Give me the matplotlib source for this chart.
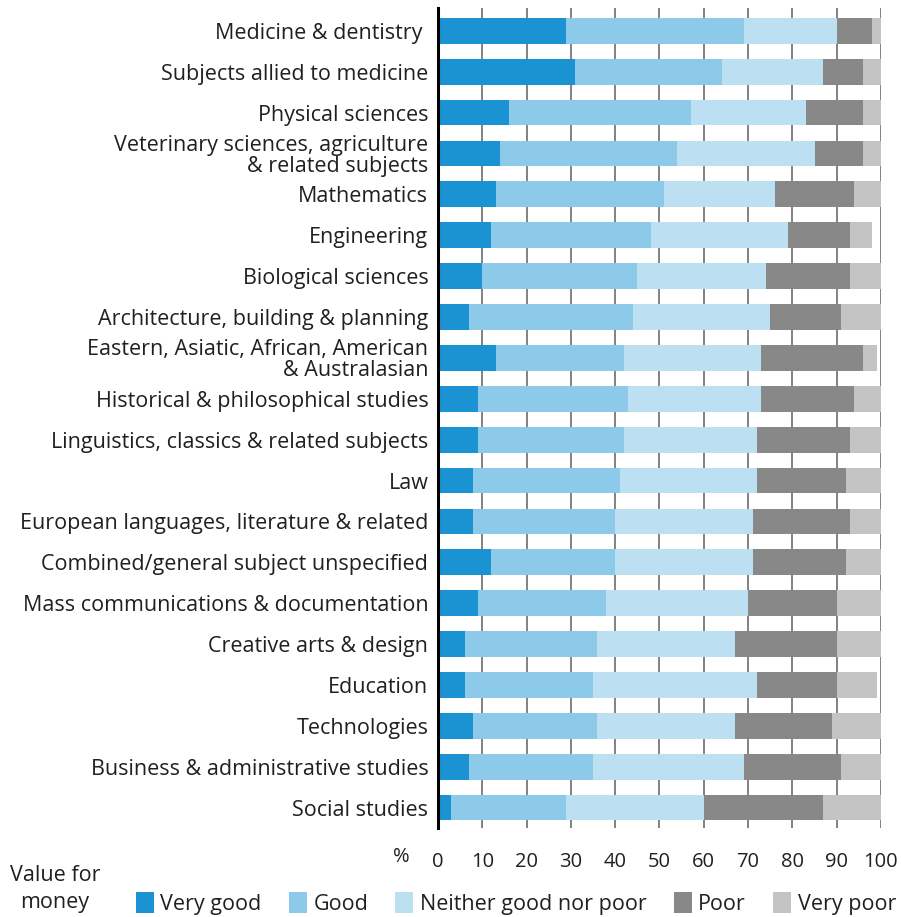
import matplotlib.pyplot as plt
from matplotlib.patches import Patch

plt.rcParams['font.family'] = ['Open Sans', 'DejaVu Sans']

subjects = [
    'Medicine & dentistry ',
    'Subjects allied to medicine',
    'Physical sciences',
    'Veterinary sciences, agriculture\n& related subjects',
    'Mathematics',
    'Engineering',
    'Biological sciences',
    'Architecture, building & planning',
    'Eastern, Asiatic, African, American\n& Australasian',
    'Historical & philosophical studies',
    'Linguistics, classics & related subjects',
    'Law',
    'European languages, literature & related',
    'Combined/general subject unspecified',
    'Mass communications & documentation',
    'Creative arts & design',
    'Education',
    'Technologies',
    'Business & administrative studies',
    'Social studies',
]

very_good = [29, 31, 16, 14, 13, 12, 10, 7, 13, 9, 9, 8, 8, 12, 9, 6, 6, 8, 7, 3]
good      = [40, 33, 41, 40, 38, 36, 35, 37, 29, 34, 33, 33, 32, 28, 29, 30, 29, 28, 28, 26]
neither   = [21, 23, 26, 31, 25, 31, 29, 31, 31, 30, 30, 31, 31, 31, 32, 31, 37, 31, 34, 31]
poor      = [8, 9, 13, 11, 18, 14, 19, 16, 23, 21, 21, 20, 22, 21, 20, 23, 18, 22, 22, 27]
very_poor = [2, 4, 4, 4, 6, 5, 7, 9, 3, 6, 7, 8, 7, 8, 10, 10, 9, 11, 9, 13]

series = [
    ('Very good', very_good, '#1b93d3'),
    ('Good', good, '#8dc9e8'),
    ('Neither good nor poor', neither, '#bcdff1'),
    ('Poor', poor, '#888888'),
    ('Very poor', very_poor, '#c4c4c4'),
]

text_color = '#231f20'
fs = 15.5

fig = plt.figure(figsize=(9.02, 9.17), dpi=100)
ax = fig.add_axes([0.4856, 0.0971, 0.4911, 0.8942])

# stacked horizontal bars, one row per subject
y = list(range(len(subjects)))
left = [0] * len(subjects)
for name, vals, color in series:
    ax.barh(y, vals, left=left, height=0.63, color=color, label=name, zorder=2)
    left = [a + b for a, b in zip(left, vals)]

ax.set_xlim(0, 100)
ax.set_ylim(19.5, -0.56)
ax.set_xticks(range(0, 101, 10))
ax.set_yticks(y)
ax.set_yticklabels(subjects, fontsize=fs, color=text_color, linespacing=1.0)
ax.tick_params(axis='y', length=0, pad=7)
ax.tick_params(axis='x', length=0, pad=17, labelsize=14.5, labelcolor=text_color)

ax.grid(axis='x', color='#777777', linewidth=1.3, zorder=0)
ax.set_axisbelow(True)
for side in ['top', 'right', 'bottom']:
    ax.spines[side].set_visible(False)
ax.spines['left'].set_color('black')
ax.spines['left'].set_linewidth(2.2)
ax.spines['left'].set_zorder(3)

ax.text(-0.083, -0.035, '%', transform=ax.transAxes, fontsize=14.5,
        color=text_color, ha='center', va='center')

fig.text(0.061, 0.0305, 'Value for\nmoney', fontsize=fs, color=text_color,
         ha='center', va='center', multialignment='center', linespacing=1.35)

handles = [Patch(facecolor=c, edgecolor='none') for _, _, c in series]
labels = [n for n, _, _ in series]
fig.legend(handles, labels, loc='center right', bbox_to_anchor=(1.003, 0.015),
           ncol=5, frameon=False, fontsize=fs, handlelength=0.85,
           handleheight=1.1, handletextpad=0.3, columnspacing=1.25,
           labelcolor=text_color, borderaxespad=0)

fig.savefig('out.png', dpi=100)
